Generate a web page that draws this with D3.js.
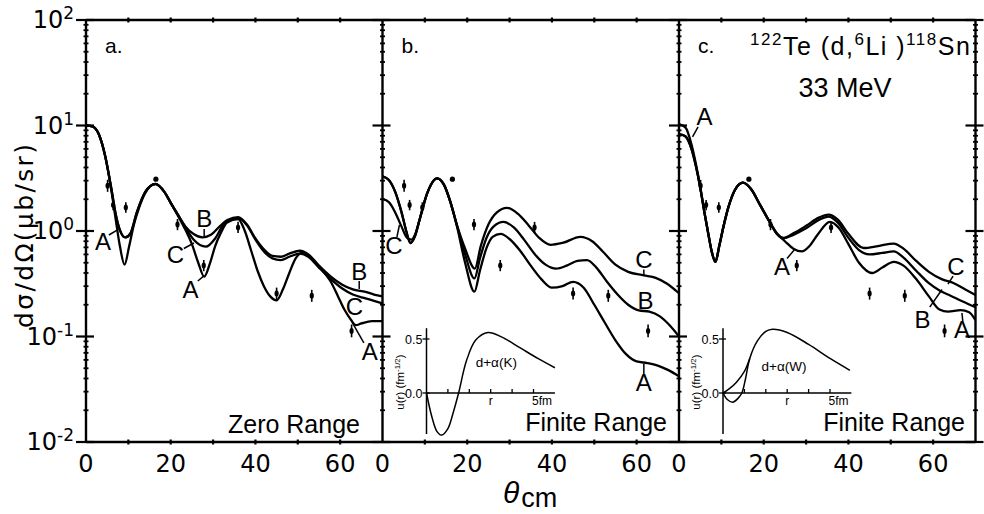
<!DOCTYPE html>
<html>
<head>
<meta charset="utf-8">
<script src="https://cdn.jsdelivr.net/npm/d3@7"></script>
<style>
  body { margin: 0; background: #fff; }
  svg { display: block; }
  text { fill: #000; }
</style>
</head>
<body>
<svg id="chart" width="984" height="514"></svg>
<script>
// ---------- data ----------
// x tick labels (degrees) and y decades (powers of ten)
const thetaTickLabels = [0, 20, 40, 60];
const thetaMinorTicks = [10, 20, 30, 40, 50, 60];
const yDecades = [-2, -1, 0, 1, 2];

// measured cross sections (same set shown in every panel)
const dataTheta = [5.1, 6.4, 9.4, 16.5, 21.6, 27.8, 35.9, 45.0, 53.3, 62.7];
const dataSigma = [2.68, 1.76, 1.67, 3.1, 1.15, 0.47, 1.08, 0.255, 0.243, 0.113];
const dataRelErr = [0.14, 0.12, 0.12, 0, 0.13, 0.13, 0.13, 0.14, 0.14, 0.15];

// panel a: zero range DWBA curves [theta, sigma]
const zeroRangeA = [[0,10],[1.5,9.8],[3,8.3],[4.5,5.2],[6,2.4],[7,1.3],[8,0.72],[9.1,0.48],[10.2,0.72],[11.3,1.15],[12.5,1.65],[14,2.3],[16.4,2.78],[18.5,2.35],[20,1.85],[21.6,1.42],[23.5,1.02],[25,0.75],[26.5,0.5],[27.9,0.37],[29.3,0.5],[30.5,0.72],[31.8,0.95],[33.3,1.2],[35.9,1.3],[37.5,1.0],[39,0.65],[40.5,0.42],[42,0.3],[43.5,0.24],[45,0.22],[46.5,0.28],[48,0.4],[49.5,0.55],[51,0.62],[52.5,0.58],[55,0.46],[57.8,0.33],[59.5,0.24],[61,0.18],[62.5,0.145],[63.7,0.128],[65,0.133],[67.5,0.14],[70,0.14]];
const zeroRangeB = [[0,10],[1.5,9.8],[3,8.3],[4.5,5.2],[6,2.5],[7,1.45],[8,1.02],[9.3,0.87],[10.5,0.95],[12,1.5],[14,2.35],[16.4,2.8],[18.5,2.35],[20,1.85],[21.6,1.45],[23.5,1.1],[25.5,0.93],[27.5,0.87],[29.5,0.92],[31.5,1.1],[33.5,1.28],[35.9,1.35],[38,1.15],[40,0.85],[42,0.67],[44,0.58],[46,0.57],[48,0.61],[50.5,0.65],[52.5,0.6],[55,0.47],[57.8,0.37],[60.5,0.31],[63,0.28],[66,0.265],[68,0.25],[70,0.24]];
const zeroRangeC = [[0,10],[1.5,9.8],[3,8.3],[4.5,5.2],[6,2.5],[7,1.45],[8,1.02],[9.3,0.87],[10.5,0.95],[12,1.5],[14,2.35],[16.4,2.8],[18.5,2.35],[20,1.85],[21.6,1.45],[23.5,1.08],[25.5,0.82],[28.3,0.71],[30.5,0.85],[32.5,1.15],[35.9,1.33],[38,1.13],[40,0.83],[42,0.64],[44,0.55],[46,0.53],[48,0.57],[50.5,0.61],[52.5,0.57],[55,0.45],[57.8,0.35],[60.5,0.285],[63,0.25],[66,0.23],[68,0.218],[70,0.206]];

// panel b: finite range, d+alpha (K)
const finiteKA = [[0,3.3],[1.5,3.05],[3,2.35],[4.5,1.5],[5.6,1.0],[6.6,0.77],[7.6,0.88],[8.8,1.3],[10.5,2.25],[12.9,3.16],[14.5,2.75],[16,1.9],[17.6,1.1],[19.5,0.5],[21.7,0.266],[23,0.42],[24.5,0.68],[26,0.88],[27.9,0.94],[30,0.84],[32.5,0.65],[35,0.47],[37.5,0.35],[40,0.29],[42.5,0.3],[45,0.33],[47.5,0.29],[50,0.2],[52.5,0.135],[55,0.092],[57.5,0.068],[60,0.058],[62.5,0.056],[65,0.053],[67.5,0.048],[70,0.042]];
const finiteKB = [[0,3.3],[1.5,3.05],[3,2.35],[4.5,1.5],[5.6,1.0],[6.6,0.77],[7.6,0.88],[8.8,1.3],[10.5,2.25],[12.9,3.16],[14.5,2.75],[16,1.9],[17.6,1.12],[19.5,0.6],[21.7,0.355],[23,0.55],[24.5,0.85],[26.2,1.1],[28.6,1.22],[31,1.08],[33.5,0.82],[36,0.6],[38.5,0.48],[41,0.44],[43.5,0.47],[46,0.52],[48.3,0.53],[50.5,0.45],[53,0.33],[55.5,0.25],[58,0.2],[60.5,0.177],[63,0.172],[65.5,0.155],[68,0.125],[70,0.1]];
const finiteKC = [[0,2.0],[1.5,1.88],[3,1.5],[4.5,1.1],[5.8,0.86],[6.8,0.83],[7.8,0.95],[8.8,1.3],[10.5,2.25],[12.9,3.16],[14.5,2.75],[16,1.9],[17.6,1.13],[19.5,0.68],[21.8,0.44],[23.2,0.72],[25,1.15],[27,1.5],[29.4,1.66],[32,1.45],[34.5,1.13],[37,0.86],[39.7,0.74],[42.5,0.77],[46.7,0.88],[49.5,0.8],[52,0.64],[55,0.48],[58,0.41],[61.7,0.38],[64.5,0.36],[67,0.32],[70,0.257]];

// panel c: finite range, d+alpha (W)
const finiteWA = [[0,10.3],[1.5,9.6],[3,6.5],[4,4.3],[5,2.63],[6,1.5],[7,0.9],[7.8,0.62],[8.6,0.51],[9.5,0.72],[10.5,1.1],[11.7,1.7],[13.2,2.45],[15.1,2.87],[17,2.5],[19.2,1.75],[21.6,1.18],[23.3,0.93],[25,0.8],[27,0.68],[29,0.64],[30.8,0.72],[32.8,0.93],[35.6,1.22],[37.8,1.06],[40,0.75],[42.5,0.5],[45.6,0.4],[48,0.45],[50.7,0.51],[53,0.47],[56,0.35],[59,0.24],[61.5,0.18],[63.5,0.172],[66.5,0.178],[68.5,0.17],[70,0.143]];
const finiteWB = [[0,8.3],[1.5,7.9],[3,5.9],[4,4.1],[5,2.6],[6,1.5],[7,0.9],[7.8,0.62],[8.6,0.51],[9.5,0.72],[10.5,1.1],[11.7,1.7],[13.2,2.45],[15.1,2.87],[17,2.5],[19.2,1.75],[21.6,1.18],[23.2,0.93],[24.7,0.85],[27,0.92],[30,1.06],[33,1.27],[35.3,1.37],[37.5,1.2],[40,0.86],[42.5,0.66],[45,0.6],[48,0.62],[50.7,0.64],[53,0.56],[56,0.42],[59,0.32],[61.7,0.27],[64,0.245],[67,0.215],[70,0.19]];
const finiteWC = [[0,8.3],[1.5,7.9],[3,5.9],[4,4.1],[5,2.6],[6,1.5],[7,0.9],[7.8,0.62],[8.6,0.51],[9.5,0.72],[10.5,1.1],[11.7,1.7],[13.2,2.45],[15.1,2.87],[17,2.5],[19.2,1.75],[21.6,1.18],[23.2,0.93],[24.7,0.86],[27,0.95],[30,1.12],[33,1.34],[35.3,1.43],[37.5,1.28],[40,0.94],[43.6,0.69],[47,0.72],[50.7,0.76],[53,0.68],[56,0.52],[59,0.41],[62,0.35],[64.9,0.32],[67.5,0.28],[70,0.247]];

// inset wave functions u(r), r in fm
const waveK = [[0,0],[0.25,-0.22],[0.5,-0.36],[0.71,-0.39],[1.0,-0.33],[1.25,-0.18],[1.5,0],[1.87,0.3],[2.3,0.49],[2.87,0.56],[3.5,0.52],[4.36,0.42],[5.2,0.32],[6.0,0.234]];
const waveW = [[0,0],[0.2,-0.06],[0.46,-0.085],[0.7,-0.05],[0.88,0],[1.05,0.13],[1.25,0.32],[1.6,0.48],[2.0,0.57],[2.32,0.59],[3.0,0.56],[4.0,0.45],[5.0,0.32],[5.93,0.21]];
const waveWalt = [[0,0],[0.3,0.04],[0.63,0.1],[1.0,0.2],[1.25,0.32]];
const insetRTicks = [1, 2, 3, 4, 5];
const insetUTicks = [0, 0.5];

// curve labels: [text, theta, sigma, leader from [theta, sigma], leader to [theta, sigma]]
const labelsA = [
  ["A", 4.0, 0.66, [5.4, 0.916], [7.55, 1.03]],
  ["B", 27.9, 1.10, [27.9, 1.045], [27.9, 0.887]],
  ["C", 21.1, 0.50, [23.1, 0.683], [25.5, 0.77]],
  ["A", 24.7, 0.232, [26.4, 0.336], [27.9, 0.378]],
  ["B", 64.5, 0.343, [64.5, 0.336], [64.5, 0.282]],
  ["C", 63.4, 0.16, null, null],
  ["A", 67.0, 0.06, [62.8, 0.137], [65.6, 0.087]]
];
const labelsB = [
  ["C", 2.7, 0.605, [3.4, 0.877], [4.0, 1.14]],
  ["C", 61.7, 0.446, [61.7, 0.432], [61.7, 0.374]],
  ["B", 62.1, 0.182, null, null],
  ["A", 61.7, 0.0304, [61.7, 0.0442], [61.7, 0.055]]
];
const labelsC = [
  ["A", 6.0, 10.1, [4.5, 9.7], [3.2, 7.8]],
  ["A", 24.3, 0.383, [25.5, 0.549], [27.2, 0.66]],
  ["C", 65.4, 0.383, [64.7, 0.374], [63.5, 0.314]],
  ["B", 57.5, 0.12, [59.2, 0.19], [62.1, 0.279]],
  ["A", 66.8, 0.097, [67.0, 0.139], [66.8, 0.167]]
];

// ---------- layout ----------
const plotTop = 20, plotBottom = 442;
const panelW = 296.5;
const panelLefts = [86, 382.5, 679];
const sansText = "'Liberation Sans', Arial, sans-serif";
const sansDigits = "'DejaVu Sans', sans-serif";

const svg = d3.select("#chart");
const y = d3.scaleLog().domain([0.01, 100]).range([plotBottom, plotTop]);

const panels = [
  { tag: "a.", curves: [zeroRangeA, zeroRangeB, zeroRangeC], labels: labelsA, note: "Zero Range", noteY: 433, noteEnd: 274, inset: null },
  { tag: "b.", curves: [finiteKA, finiteKB, finiteKC], labels: labelsB, note: "Finite Range", noteY: 431, noteEnd: 284.5,
    inset: { curves: [waveK], name: "d+\u03b1(K)", nameAt: [2.3, 0.24] } },
  { tag: "c.", curves: [finiteWA, finiteWB, finiteWC], labels: labelsC, note: "Finite Range", noteY: 431, noteEnd: 286,
    inset: { curves: [waveW, waveWalt], name: "d+\u03b1(W)", nameAt: [1.8, 0.2] } }
];

// frame: shared top and bottom, vertical separators
const frame = svg.append("g").attr("stroke", "#000").attr("stroke-width", 2.4).attr("fill", "none");
const xEnd = panelLefts[2] + panelW;
frame.append("line").attr("x1", panelLefts[0]).attr("x2", xEnd).attr("y1", plotTop).attr("y2", plotTop);
frame.append("line").attr("x1", panelLefts[0]).attr("x2", xEnd).attr("y1", plotBottom).attr("y2", plotBottom);
const verticals = panelLefts.concat([xEnd]);
verticals.forEach(vx => {
  frame.append("line").attr("x1", vx).attr("x2", vx).attr("y1", plotTop).attr("y2", plotBottom);
  // decade ticks cross the separators
  yDecades.forEach(k => {
    const yy = y(Math.pow(10, k));
    frame.append("line").attr("x1", vx - 10).attr("x2", vx + 8).attr("y1", yy).attr("y2", yy).attr("stroke-width", 2.2);
  });
  // minor log ticks
  yDecades.slice(0, -1).forEach(k => {
    for (let m = 2; m <= 9; m++) {
      const yy = y(m * Math.pow(10, k));
      frame.append("line").attr("x1", vx - 2.5).attr("x2", vx + 2.5).attr("y1", yy).attr("y2", yy).attr("stroke-width", 1.8);
    }
  });
});

// y tick labels 10^k
yDecades.forEach(k => {
  const yy = y(Math.pow(10, k));
  const t = svg.append("text").attr("x", 74).attr("y", yy + 8).attr("text-anchor", "end")
    .style("font-family", sansDigits).style("font-size", "24px");
  t.append("tspan").text("10");
  t.append("tspan").attr("dy", -9).style("font-size", "17px").text(k < 0 ? "-" + Math.abs(k) : String(k));
});

// y axis title
svg.append("text")
  .attr("transform", "translate(33,236) rotate(-90)")
  .attr("text-anchor", "middle")
  .attr("textLength", 184).attr("lengthAdjust", "spacing")
  .style("font-family", sansDigits).style("font-size", "25px")
  .text("d\u03c3/d\u03a9(\u03bcb/sr)");

// x axis title
const xt = svg.append("text").attr("x", 503).attr("y", 503).style("font-family", sansText);
xt.append("tspan").style("font-size", "30px").style("font-style", "italic").text("\u03b8");
xt.append("tspan").attr("dy", 4).attr("dx", 2).style("font-size", "27px").text("cm");

const line = d3.line().curve(d3.curveMonotoneX);

panels.forEach((p, pi) => {
  const L = panelLefts[pi];
  const x = d3.scaleLinear().domain([0, 70]).range([L, L + panelW]);
  const g = svg.append("g");

  // theta ticks on top and bottom edges
  thetaMinorTicks.forEach(t => {
    [plotTop, plotBottom].forEach(yy => {
      g.append("line").attr("x1", x(t)).attr("x2", x(t)).attr("y1", yy - 2.5).attr("y2", yy + 2.5)
        .attr("stroke", "#000").attr("stroke-width", 2.2);
    });
  });
  thetaTickLabels.forEach(t => {
    g.append("text").attr("x", x(t)).attr("y", 471.5).attr("text-anchor", "middle")
      .style("font-family", sansDigits).style("font-size", "24px").text(t);
  });

  // panel tag and notes
  g.append("text").attr("x", L + 19).attr("y", 53).style("font-family", sansText).style("font-size", "21px").text(p.tag);
  g.append("text").attr("x", L + p.noteEnd).attr("y", p.noteY).attr("text-anchor", "end")
    .style("font-family", sansText).style("font-size", "25px").text(p.note);

  // theory curves
  const clipId = "clip" + pi;
  svg.append("clipPath").attr("id", clipId).append("rect")
    .attr("x", L).attr("y", plotTop).attr("width", panelW).attr("height", plotBottom - plotTop);
  const cg = g.append("g").attr("clip-path", "url(#" + clipId + ")");
  p.curves.forEach(c => {
    cg.append("path").attr("d", line(c.map(d => [x(d[0]), y(d[1])])))
      .attr("fill", "none").attr("stroke", "#000").attr("stroke-width", 2.3).attr("stroke-linejoin", "round");
  });

  // data points with error bars
  dataTheta.forEach((th, i) => {
    const s = dataSigma[i], e = dataRelErr[i];
    if (e > 0) {
      g.append("line").attr("x1", x(th)).attr("x2", x(th))
        .attr("y1", y(s * (1 + e))).attr("y2", y(s / (1 + e)))
        .attr("stroke", "#000").attr("stroke-width", 1.6);
      g.append("ellipse").attr("cx", x(th)).attr("cy", y(s)).attr("rx", 2.1).attr("ry", 3).attr("fill", "#000");
    } else {
      g.append("circle").attr("cx", x(th)).attr("cy", y(s)).attr("r", 2.6).attr("fill", "#000");
    }
  });

  // curve labels with leaders
  p.labels.forEach(([txt, th, s, from, to]) => {
    g.append("text").attr("x", x(th)).attr("y", y(s)).attr("text-anchor", "middle")
      .style("font-family", sansText).style("font-size", "24px").text(txt);
    if (from) {
      g.append("line").attr("x1", x(from[0])).attr("y1", y(from[1])).attr("x2", x(to[0])).attr("y2", y(to[1]))
        .attr("stroke", "#000").attr("stroke-width", 1.5);
    }
  });

  // inset: deuteron-alpha relative wave function
  if (p.inset) {
    const ox = L + 44, oy = 393;
    const ix = d3.scaleLinear().domain([0, 6]).range([ox, ox + 128.4]);
    const iy = d3.scaleLinear().domain([0, 0.5]).range([oy, oy - 54]);
    const ig = g.append("g");
    ig.append("line").attr("x1", ix(0)).attr("x2", ix(0)).attr("y1", iy(0.6)).attr("y2", iy(-0.38))
      .attr("stroke", "#000").attr("stroke-width", 1.5);
    ig.append("line").attr("x1", ix(0)).attr("x2", ix(6)).attr("y1", iy(0)).attr("y2", iy(0))
      .attr("stroke", "#000").attr("stroke-width", 1.5);
    insetRTicks.forEach(r => {
      ig.append("line").attr("x1", ix(r)).attr("x2", ix(r)).attr("y1", iy(0)).attr("y2", iy(0) - 4)
        .attr("stroke", "#000").attr("stroke-width", 1.3);
    });
    insetUTicks.forEach(u => {
      ig.append("line").attr("x1", ix(0) - 4).attr("x2", ix(0) + 3).attr("y1", iy(u)).attr("y2", iy(u))
        .attr("stroke", "#000").attr("stroke-width", 1.3);
      ig.append("text").attr("x", ix(0) - 4).attr("y", iy(u) + 5).attr("text-anchor", "end")
        .style("font-family", sansText).style("font-size", "12.5px").text(u.toFixed(1));
    });
    ig.append("text").attr("x", ix(3)).attr("y", iy(0) + 12).attr("text-anchor", "middle")
      .style("font-family", sansText).style("font-size", "12px").text("r");
    ig.append("text").attr("x", ix(5.4)).attr("y", iy(0) + 11.5).attr("text-anchor", "middle")
      .style("font-family", sansText).style("font-size", "12px").text("5fm");
    const yl = ig.append("text").attr("transform", "translate(" + (ix(0) - 23) + "," + (oy - 11) + ") rotate(-90)")
      .attr("text-anchor", "middle").style("font-family", sansText).style("font-size", "11.5px");
    yl.append("tspan").text("u(r) (fm");
    yl.append("tspan").attr("dy", -4).style("font-size", "8px").text("-1/2");
    yl.append("tspan").attr("dy", 4).text(")");
    ig.append("text").attr("x", ix(p.inset.nameAt[0])).attr("y", iy(p.inset.nameAt[1]))
      .style("font-family", sansText).style("font-size", "13.5px").text(p.inset.name);
    p.inset.curves.forEach(c => {
      ig.append("path").attr("d", d3.line().curve(d3.curveCatmullRom.alpha(0.5))(c.map(d => [ix(d[0]), iy(d[1])])))
        .attr("fill", "none").attr("stroke", "#000").attr("stroke-width", 1.5);
    });
  }
});

// reaction title
const title = svg.append("text").attr("x", 750).attr("y", 55)
  .style("font-family", sansText).style("font-size", "25px").style("letter-spacing", "1.5px");
[["122", true], ["Te (d,", false], ["6", true], ["Li )", false], ["118", true], ["Sn", false]].forEach(([s, sup], i, arr) => {
  const prevSup = i > 0 && arr[i - 1][1];
  const ts = title.append("tspan").text(s);
  if (sup) ts.style("font-size", "17px").attr("dy", -10);
  else if (prevSup) ts.attr("dy", 10);
});
svg.append("text").attr("x", 845).attr("y", 97).attr("text-anchor", "middle")
  .style("font-family", sansText).style("font-size", "27px").text("33 MeV");
</script>
</body>
</html>
